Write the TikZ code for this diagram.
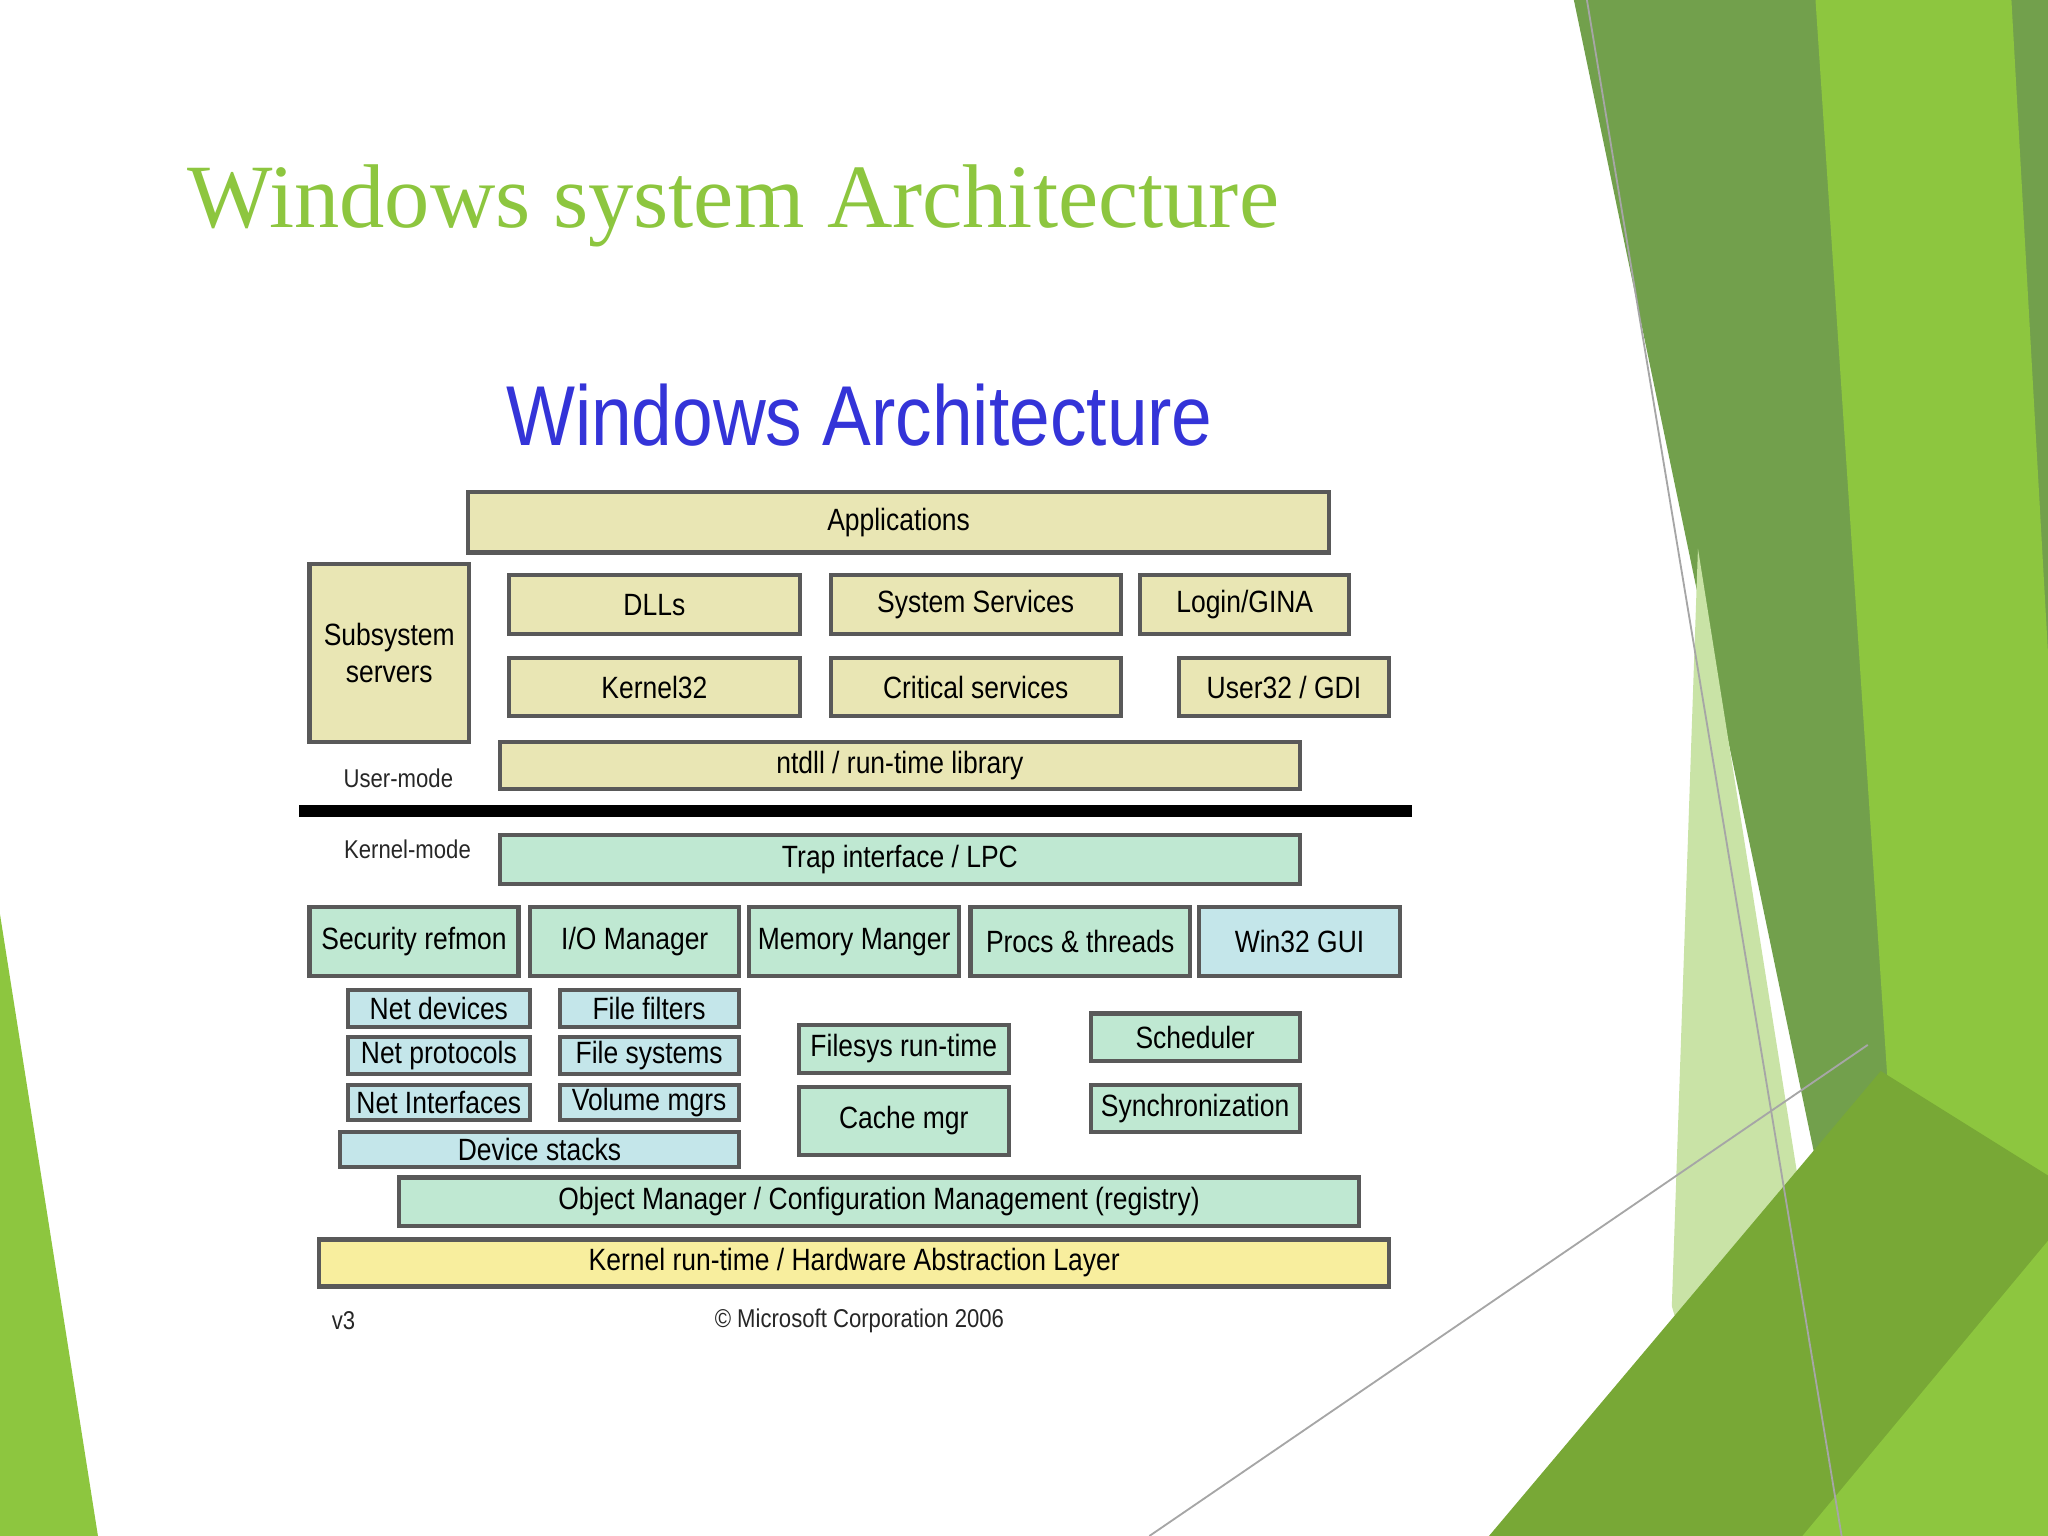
\documentclass[tikz,border=0pt]{standalone}
\usepackage{fontspec}
\setmainfont{Liberation Sans}
\newfontfamily\titlefont{Liberation Serif}
\newfontfamily\boxfont{Liberation Sans}[FakeStretch=0.86]
\definecolor{slidegreen}{HTML}{8DC63F}
\definecolor{darkleaf}{HTML}{72A04C}
\definecolor{paleleaf}{HTML}{C9E3A6}
\definecolor{archblue}{HTML}{3434D8}
\definecolor{userfill}{HTML}{E9E6B4}
\definecolor{kernfill}{HTML}{BFE8D2}
\definecolor{netfill}{HTML}{C4E6EA}
\definecolor{halfill}{HTML}{F8EE9E}
\begin{document}
\begin{tikzpicture}[x=0.01cm,y=-0.01cm,
    sz/.style 2 args={minimum width=#1*0.01cm,minimum height=#2*0.01cm},
    blk/.style={draw=gray!70!black,line width=0.9pt,inner sep=0pt,font=\boxfont\fontsize{6.7}{8}\selectfont},
    ublk/.style={blk,fill=userfill},
    kblk/.style={blk,fill=kernfill},
    nblk/.style={blk,fill=netfill},
    hblk/.style={blk,fill=halfill},
    note/.style={font=\boxfont\fontsize{5.6}{7}\selectfont,text=gray!30!black}]
    \useasboundingbox (0,0) rectangle (1568,1176);
    % slide decoration
    \fill[darkleaf] (1205,0)--(1568,0)--(1568,1176)--(1450,1176)--cycle;
    \fill[slidegreen] (1390,0)--(1540,0)--(1568,500)--(1568,1176)--(1470,1176)--(1450,900)--cycle;
    \fill[paleleaf] (1300,420)--(1400,1050)--(1330,1176)--(1280,1000)--cycle;
    \fill[slidegreen!85!black] (1140,1176)--(1440,820)--(1568,900)--(1568,1176)--cycle;
    \fill[slidegreen] (1380,1176)--(1568,950)--(1568,1176)--cycle;
    \fill[slidegreen] (0,700)--(75,1176)--(0,1176)--cycle;
    \draw[gray!70,thin] (1215,0)--(1410,1176);
    \draw[gray!70,thin] (880,1176)--(1430,800);
    % titles
    \node[text=slidegreen,font=\titlefont\fontsize{19.7}{23}\selectfont,anchor=west] (slide) at (131,158) {Windows system Architecture};
    \node[text=archblue,font=\boxfont\fontsize{18.5}{22}\selectfont] (arch) at (658,318) {Windows Architecture};
    % user mode
    \node[ublk,sz={659}{46}] (apps) at (688,400) {Applications};
    \node[ublk,sz={122}{136},align=center] (subsys) at (298,500) {Subsystem\\servers};
    \node[ublk,sz={223}{45}] (dlls) at (501,463) {DLLs};
    \node[ublk,sz={222}{45}] (svcs) at (747,463) {System Services};
    \node[ublk,sz={160}{45}] (login) at (953,463) {Login/GINA};
    \node[ublk,sz={223}{45}] (k32) at (501,526) {Kernel32};
    \node[ublk,sz={222}{45}] (crit) at (747,526) {Critical services};
    \node[ublk,sz={161}{45}] (user32) at (983,526) {User32 / GDI};
    \node[ublk,sz={612}{36}] (ntdll) at (689,586) {ntdll / run-time library};
    \node[note] (umode) at (305,596) {User-mode};
    \coordinate (sepL) at (229,621);
    \coordinate (sepR) at (1081,621);
    \draw[line width=2.5pt] (sepL)--(sepR);
    % kernel mode
    \node[note] (kmode) at (312,650) {Kernel-mode};
    \node[kblk,sz={612}{37}] (trap) at (689,658) {Trap interface / LPC};
    \node[kblk,sz={160}{53}] (sec) at (317,721) {Security refmon};
    \node[kblk,sz={160}{53}] (io) at (486,721) {I/O Manager};
    \node[kblk,sz={161}{53}] (mem) at (654,721) {Memory Manger};
    \node[kblk,sz={168}{53}] (procs) at (827,721) {Procs \& threads};
    \node[nblk,sz={154}{53}] (gui) at (995,721) {Win32 GUI};
    \node[nblk,sz={139}{28}] (netdev) at (336,772) {Net devices};
    \node[nblk,sz={139}{28}] (netprot) at (336,808) {Net protocols};
    \node[nblk,sz={139}{27}] (netif) at (336,844) {Net Interfaces};
    \node[nblk,sz={137}{28}] (ffilt) at (497,772) {File filters};
    \node[nblk,sz={137}{28}] (fsys) at (497,808) {File systems};
    \node[nblk,sz={137}{27}] (vol) at (497,844) {Volume mgrs};
    \node[nblk,sz={306}{27}] (devst) at (413,880) {Device stacks};
    \node[kblk,sz={161}{37}] (fsrt) at (692,803) {Filesys run-time};
    \node[kblk,sz={161}{52}] (cache) at (692,858) {Cache mgr};
    \node[kblk,sz={160}{36}] (sched) at (915,794) {Scheduler};
    \node[kblk,sz={160}{36}] (sync) at (915,849) {Synchronization};
    \node[kblk,sz={735}{37}] (objmgr) at (673,920) {Object Manager / Configuration Management (registry)};
    \node[hblk,sz={819}{36}] (hal) at (654,967) {Kernel run-time / Hardware Abstraction Layer};
    \node[note] (ver) at (263,1011) {v3};
    \node[note] (copy) at (658,1011) {\textcopyright{} Microsoft Corporation 2006};
\end{tikzpicture}
\end{document}
